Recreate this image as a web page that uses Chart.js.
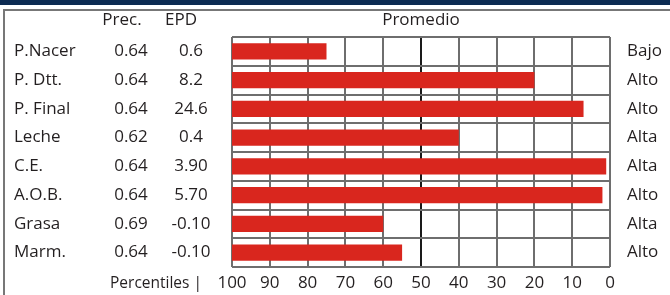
<!DOCTYPE html>
<html lang="es">
<head>
<meta charset="UTF-8">
<title>EPD Promedio</title>
<script src="https://cdn.jsdelivr.net/npm/chart.js"></script>
<style>
  html, body { margin: 0; padding: 0; background: #fff; }
  #wrap { width: 670px; height: 295px; }
</style>
</head>
<body>
<div id="wrap"><canvas id="chart" width="670" height="295"></canvas></div>
<script>
// data
const traits = ['P.Nacer', 'P. Dtt.', 'P. Final', 'Leche', 'C.E.', 'A.O.B.', 'Grasa', 'Marm.'];
const prec = ['0.64', '0.64', '0.64', '0.62', '0.64', '0.64', '0.69', '0.64'];
const epd = ['0.6', '8.2', '24.6', '0.4', '3.90', '5.70', '-0.10', '-0.10'];
const percentiles = [75, 20, 7, 40, 1, 2, 60, 55];
const ratings = ['Bajo', 'Alto', 'Alto', 'Alta', 'Alta', 'Alto', 'Alta', 'Alto'];
const tickValues = [100, 90, 80, 70, 60, 50, 40, 30, 20, 10, 0];

const FONT = '"Open Sans", "Noto Sans", sans-serif';
const TEXT = '#231f20';

// text columns, header and frame
const tablePlugin = {
  id: 'table',
  beforeDraw(chart) {
    const c = chart.ctx;
    c.save();
    c.fillStyle = '#0c2b52';
    c.fillRect(0, 0, chart.width, 5);
    c.fillStyle = '#777';
    c.fillRect(3, 9, chart.width - 3, 2);
    c.fillRect(3, 9, 2, chart.height - 9);
    c.restore();
  },
  afterDraw(chart) {
    const c = chart.ctx;
    const y = chart.scales.y;
    const x = chart.scales.x;
    c.save();
    c.font = '17px ' + FONT;
    c.fillStyle = TEXT;
    c.textBaseline = 'middle';
    c.textAlign = 'center';
    c.fillText('Prec.', 122, 20);
    c.fillText('EPD', 181, 20);
    c.fillText('Promedio', x.getPixelForValue(50), 20);
    traits.forEach((t, i) => {
      const py = y.getPixelForValue(i);
      c.textAlign = 'left';
      c.fillText(t, 14, py);
      c.textAlign = 'center';
      c.fillText(prec[i], 131, py);
      c.fillText(epd[i], 191, py);
      c.textAlign = 'left';
      c.fillText(ratings[i], 627, py);
    });
    c.textAlign = 'right';
    c.font = '15.5px ' + FONT;
    c.fillText('Percentiles |', 202, 284);
    c.restore();
  }
};

new Chart(document.getElementById('chart'), {
  type: 'bar',
  data: {
    labels: traits,
    datasets: [{
      data: percentiles.map(v => [v, 100]),
      backgroundColor: '#d9261e',
      borderWidth: 0,
      barPercentage: 0.56,
      categoryPercentage: 1
    }]
  },
  options: {
    indexAxis: 'y',
    responsive: false,
    animation: false,
    layout: { padding: { top: 37, right: 60, left: 0, bottom: 0 } },
    plugins: { legend: { display: false }, tooltip: { enabled: false } },
    scales: {
      x: {
        reverse: true,
        min: 0,
        max: 100,
        afterBuildTicks(s) { s.ticks = tickValues.map(v => ({ value: v })); },
        afterFit(s) { s.height = 28; },
        border: { display: false },
        grid: {
          drawTicks: false,
          lineWidth: 2,
          color: ctx => ctx.tick && ctx.tick.value === 50 ? '#1a1a1a' : '#6e6e6e'
        },
        ticks: {
          padding: 6,
          maxRotation: 0,
          autoSkip: false,
          color: TEXT,
          font: { family: FONT, size: 17 }
        }
      },
      y: {
        afterFit(s) { s.width = 232; },
        border: { display: false },
        grid: { offset: true, drawTicks: false, lineWidth: 2, color: '#6e6e6e' },
        ticks: { display: false }
      }
    }
  },
  plugins: [tablePlugin]
});
</script>
</body>
</html>
